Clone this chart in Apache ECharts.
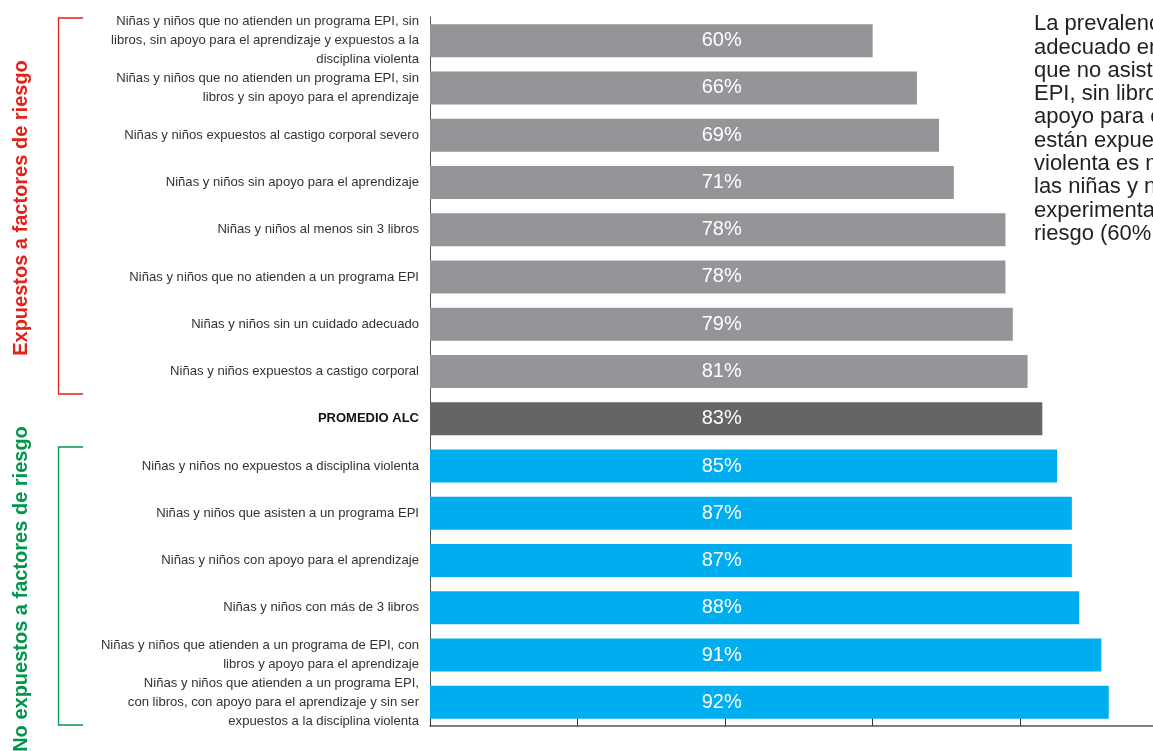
<!DOCTYPE html>
<html>
<head>
<meta charset="utf-8">
<script src="https://cdn.jsdelivr.net/npm/echarts@6/dist/echarts.min.js"></script>
<style>
html,body{margin:0;padding:0;background:#fff;}
#chart{width:1153px;height:751px;}
</style>
</head>
<body>
<div id="chart"></div>
<script>
var categories = [
  'Niñas y niños que no atienden un programa EPI, sin\nlibros, sin apoyo para el aprendizaje y expuestos a la\ndisciplina violenta',
  'Niñas y niños que no atienden un programa EPI, sin\nlibros y sin apoyo para el aprendizaje',
  'Niñas y niños expuestos al castigo corporal severo',
  'Niñas y niños sin apoyo para el aprendizaje',
  'Niñas y niños al menos sin 3 libros',
  'Niñas y niños que no atienden a un programa EPI',
  'Niñas y niños sin un cuidado adecuado',
  'Niñas y niños expuestos a castigo corporal',
  'PROMEDIO ALC',
  'Niñas y niños no expuestos a disciplina violenta',
  'Niñas y niños que asisten a un programa EPI',
  'Niñas y niños con apoyo para el aprendizaje',
  'Niñas y niños con más de 3 libros',
  'Niñas y niños que atienden a un programa de EPI, con\nlibros y apoyo para el aprendizaje',
  'Niñas y niños que atienden a un programa EPI,\ncon libros, con apoyo para el aprendizaje y sin ser\nexpuestos a la disciplina violenta'
];
var values = [60, 66, 69, 71, 78, 78, 79, 81, 83, 85, 87, 87, 88, 91, 92];
var groups = ['risk','risk','risk','risk','risk','risk','risk','risk','avg','norisk','norisk','norisk','norisk','norisk','norisk'];
var groupColors = {risk: '#939598', avg: '#646567', norisk: '#00AEEF'};
var sideText = 'La prevalencia del cuidado\nadecuado en niñas y niños\nque no asisten a un programa\nEPI, sin libros, sin\napoyo para el aprendizaje y\nestán expuestos a la disciplina\nviolenta es menor que en\nlas niñas y niños que no\nexperimentan ningún factor de\nriesgo (60% vs. 92%).';
var redTitle = 'Expuestos a factores de riesgo';
var greenTitle = 'No expuestos a factores de riesgo';

var chart = echarts.init(document.getElementById('chart'));
var data = values.map(function (v, i) {
  return {value: v, itemStyle: {color: groupColors[groups[i]]}};
});
var red = '#E2231A', green = '#00964B';
chart.setOption({
  animation: false,
  grid: {left: 430, top: 17, right: 0, height: 709, containLabel: false},
  xAxis: {
    type: 'value', min: 0, max: 98, interval: 20,
    axisLine: {show: true, lineStyle: {color: '#555', width: 1.5}},
    axisTick: {show: true, inside: true, length: 8, lineStyle: {color: '#333'}},
    axisLabel: {show: false},
    splitLine: {show: false}
  },
  yAxis: {
    type: 'category', inverse: true, data: categories,
    axisLine: {show: true, lineStyle: {color: '#555', width: 1}},
    axisTick: {show: false},
    axisLabel: {
      interval: 0, hideOverlap: false,
      margin: 11, fontFamily: 'Liberation Sans', fontSize: 13.1, color: '#333', lineHeight: 19, align: 'right',
      formatter: function (v) { return v === 'PROMEDIO ALC' ? '{b|' + v + '}' : v; },
      rich: {b: {fontWeight: 'bold', color: '#111', fontSize: 13, fontFamily: 'Liberation Sans'}}
    }
  },
  series: [{
    type: 'bar', data: data, barWidth: 33,
    label: {show: true, position: [291.7, '50%'], align: 'center', verticalAlign: 'middle', formatter: '{c}%', color: '#fff', fontSize: 20, fontFamily: 'Liberation Sans'}
  }],
  graphic: [
    {type: 'polyline', shape: {points: [[83, 18], [58.5, 18], [58.5, 394], [83, 394]]}, style: {stroke: red, lineWidth: 1.3, fill: null}},
    {type: 'polyline', shape: {points: [[83, 447], [58.5, 447], [58.5, 725], [83, 725]]}, style: {stroke: green, lineWidth: 1.3, fill: null}},
    {type: 'text', x: 21, y: 208, rotation: Math.PI / 2, style: {text: redTitle, fill: red, font: 'bold 20px "Liberation Sans"', textAlign: 'center', textVerticalAlign: 'middle'}},
    {type: 'text', x: 21, y: 589, rotation: Math.PI / 2, style: {text: greenTitle, fill: green, font: 'bold 20px "Liberation Sans"', textAlign: 'center', textVerticalAlign: 'middle'}},
    {type: 'text', x: 1034, y: 12.5, style: {text: sideText, fill: '#231F20', font: '22px "Liberation Sans"', lineHeight: 23.3}}
  ]
});
</script>
</body>
</html>
